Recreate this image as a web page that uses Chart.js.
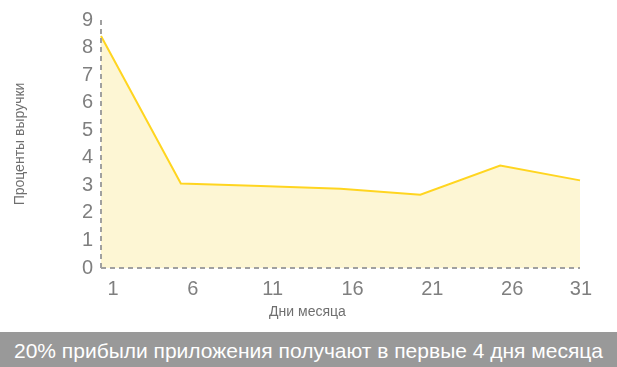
<!DOCTYPE html>
<html>
<head>
<meta charset="utf-8">
<script src="https://cdn.jsdelivr.net/npm/chart.js@4/dist/chart.umd.min.js"></script>
<style>
  html, body { margin: 0; padding: 0; background: #fff; }
  #wrap { width: 617px; height: 332px; position: relative; }
  #banner { width: 617px; height: 35px; background: #999999; color: #fff;
    font-family: "Liberation Sans", Arial, sans-serif; font-size: 21px;
    line-height: 37px; text-align: center; white-space: nowrap; }
</style>
</head>
<body>
<div id="wrap"><canvas id="c"></canvas></div>
<div id="banner">20% прибыли приложения получают в первые 4 дня месяца</div>
<script>
const days = ['1', '6', '11', '16', '21', '26', '31'];
const revenueShare = [8.42, 3.07, 2.98, 2.88, 2.66, 3.72, 3.18];
const yTicks = [0, 1, 2, 3, 4, 5, 6, 7, 8, 9];
const xTitle = 'Дни месяца';
const yTitle = 'Проценты выручки';

const FONT = '"Liberation Sans", Arial, sans-serif';
const AXIS = '#A0A0A0';
const axisGrid = {
  display: true,
  drawTicks: false,
  lineWidth: 2,
  z: 1,
  color: function (ctx) { return ctx.index === 0 ? AXIS : 'rgba(0,0,0,0)'; }
};

new Chart(document.getElementById('c'), {
  type: 'line',
  data: {
    labels: days,
    datasets: [{
      data: revenueShare,
      borderColor: '#FFD520',
      backgroundColor: '#FDF6D4',
      borderWidth: 2,
      fill: 'origin',
      pointRadius: 0,
      tension: 0
    }]
  },
  options: {
    responsive: true,
    maintainAspectRatio: false,
    animation: false,
    layout: { padding: { left: 12, right: 37, top: 19, bottom: 11 } },
    plugins: { legend: { display: false }, tooltip: { enabled: false } },
    scales: {
      x: {
        type: 'category',
        offset: false,
        grid: axisGrid,
        border: { display: false, dash: [5, 4] },
        ticks: {
          color: '#7F7F7F',
          font: { family: FONT, size: 20 },
          padding: 9,
          labelOffset: 12,
          maxRotation: 0,
          autoSkip: false,
          callback: function (v, i) {
            const l = days[i];
            return i === days.length - 1 ? l + '    ' : l;
          }
        },
        title: {
          display: true, text: xTitle + '\u00A0'.repeat(17), color: '#6F6F6F',
          font: { family: FONT, size: 14 }, padding: { top: 8, bottom: 0 }
        },
        afterFit: function (s) { s.height = 332 - 268 - 11; }
      },
      y: {
        min: 0, max: 9,
        afterBuildTicks: function (s) { s.ticks = yTicks.map(v => ({ value: v })); },
        grid: axisGrid,
        border: { display: false, dash: [5, 4] },
        ticks: {
          color: '#7F7F7F',
          font: { family: FONT, size: 20 },
          padding: 8
        },
        title: {
          display: true, text: yTitle, color: '#6F6F6F',
          font: { family: FONT, size: 14 }, padding: 0
        },
        afterFit: function (s) { s.width = 101 - 12; }
      }
    }
  }
});
</script>
</body>
</html>
